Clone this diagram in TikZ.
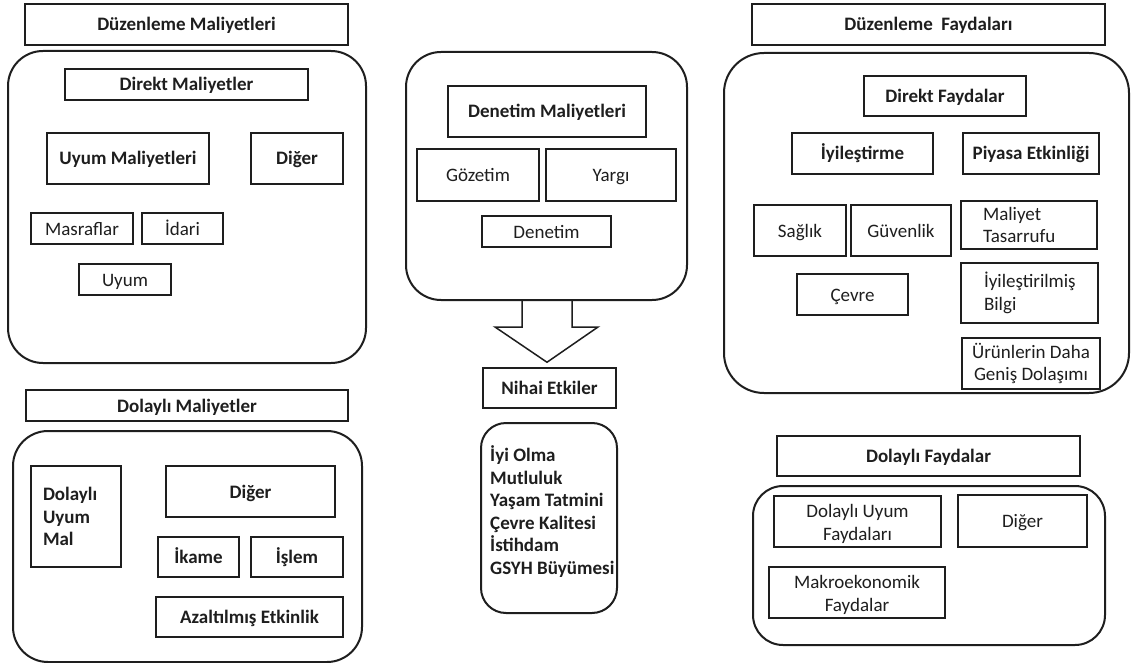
\documentclass[tikz,border=0pt]{standalone}
\usepackage{fontspec}
\setmainfont{Carlito}
\usetikzlibrary{calc}
\definecolor{ink}{HTML}{1E1E1E}
% two centred lines set a little lower than the box middle
\newcommand{\lowpair}[2]{\raisebox{-3pt}[\height][\depth]{\renewcommand{\arraystretch}{1}\begin{tabular}{@{}c@{}}#1\\#2\end{tabular}}}
\begin{document}
\begin{tikzpicture}[x=1pt,y=-1pt,
  txt/.style={font=\fontsize{19}{22.6}\selectfont, text=ink},
  btxt/.style={font=\fontsize{19}{22.6}\selectfont\bfseries, text=ink},
  mbox/.style={draw=ink, line width=1.5pt, inner sep=0pt, align=center, txt},
  box/.style={mbox, text height=14pt, text depth=1pt},
  bbox/.style={box, btxt},
  sz/.style 2 args={minimum width=#1pt, minimum height=#2pt},
  frame/.style={draw=ink, line width=2pt, rounded corners=#1, inner sep=0pt},
]
\useasboundingbox[fill=white] (0,0) rectangle (1132,663);

% --- regulatory costs: direct ---
\node[bbox, sz={323}{41}] (dmtitle) at (186.5,24.5) {Düzenleme Maliyetleri};
\node[frame=35pt, sz={358}{312}] (dmframe) at (187,207) {};
\node[bbox, sz={243}{31}] (direktm) at (186.5,84.5) {Direkt Maliyetler};
\node[bbox, sz={162}{51}] (uyumm) at (128,158.5) {Uyum Maliyetleri};
\node[bbox, sz={92}{51}] (digera) at (297,158.5) {Diğer};
\node[box, sz={102}{31}] (masraf) at (82,228.5) {Masraflar};
\node[box, sz={81}{31}] (idari) at (182.5,228.5) {İdari};
\node[box, sz={92}{31}, line width=2pt] (uyum) at (125,279.5) {Uyum};

% --- enforcement costs ---
\node[frame=35pt, sz={281}{248}] (denframe) at (546.5,176) {};
\node[bbox, sz={198}{51}] (denm) at (547,111.5) {Denetim Maliyetleri};
\node[box, sz={122}{52}, line width=2.5pt] (gozetim) at (478,175) {Gözetim};
\node[box, sz={130}{52}] (yargi) at (611,175) {Yargı};
\node[box, sz={129}{31}] (denetim) at (546.5,231.5) {Denetim};

% --- final effects ---
\node[bbox, sz={133}{40}] (nihai) at (549.5,388) {Nihai Etkiler};
\node[frame=25pt, sz={136}{190}] (etkiframe) at (549,518) {};
\node[btxt, anchor=west, align=left, inner sep=0pt] (etki) at (490,511.5)
  {İyi Olma\\Mutluluk\\Yaşam Tatmini\\Çevre Kalitesi\\İstihdam\\GSYH Büyümesi};
\draw[draw=ink, line width=1.5pt, line join=miter]
  ($(denframe.south)+(-24.5,0)$) -- ++(0,26) -- ++(-27,0)
  -- ($(nihai.north)+(-2.5,-5)$)
  -- ($(denframe.south)+(51.5,26)$) -- ++(-26,0) -- ($(denframe.south)+(25.5,0)$);

% --- regulatory benefits: direct ---
\node[bbox, sz={353}{41}] (dftitle) at (928.5,24.5) {Düzenleme\ \ Faydaları};
\node[frame=40pt, sz={405}{340}] (dfframe) at (926.5,223) {};
\node[bbox, sz={162}{40}] (direktf) at (945,96) {Direkt Faydalar};
\node[bbox, sz={141}{41}] (iyilestirme) at (862.5,153.5) {İyileştirme};
\node[bbox, sz={136}{41}] (piyasa) at (1031,153.5) {Piyasa Etkinliği};
\node[box, sz={92}{51}] (saglik) at (800,230.5) {Sağlık};
\node[box, sz={100}{51}] (guvenlik) at (901,230.5) {Güvenlik};
\node[mbox, minimum height=48pt, text width=92pt, inner xsep=22pt, align=left] (maliyet) at (1029,225) {Maliyet\\Tasarrufu};
\node[box, sz={111}{41}] (cevre) at (852.5,294.5) {Çevre};
\node[mbox, minimum height=60pt, text width=91pt, inner xsep=23pt, align=left] (bilgi) at (1029.5,293) {İyileştirilmiş\\Bilgi};
\node[mbox, sz={138}{51}] (urun) at (1031,363.5) {Ürünlerin Daha\\Geniş Dolaşımı};

% --- indirect costs ---
\node[bbox, sz={322}{31}] (dolmtitle) at (187,405.5) {Dolaylı Maliyetler};
\node[frame=35pt, sz={349}{231}] (dolmframe) at (187.5,546.5) {};
\node[mbox, btxt, minimum height=101pt, text width=66pt, inner xsep=12pt, align=left] (doluyum) at (76,516.5) {Dolaylı\\Uyum\\Mal};
\node[bbox, sz={169}{51}] (digerb) at (250.5,491.5) {Diğer};
\node[bbox, sz={81}{40}] (ikame) at (198.5,557) {İkame};
\node[bbox, sz={92}{40}] (islem) at (297,557) {İşlem};
\node[bbox, sz={187}{40}] (azalt) at (249.5,617) {Azaltılmış Etkinlik};

% --- indirect benefits ---
\node[bbox, sz={303}{40}] (dolftitle) at (928.5,456) {Dolaylı Faydalar};
\node[frame=30pt, sz={352}{159}] (dolfframe) at (929,565.5) {};
\node[mbox, sz={167}{51}] (doluyumf) at (857.5,521.5) {\lowpair{Dolaylı Uyum}{Faydaları}};
\node[box, sz={129}{52}] (digerc) at (1022.5,521) {Diğer};
\node[mbox, sz={176}{51}] (makro) at (857,592.5) {\lowpair{Makroekonomik}{Faydalar}};
\end{tikzpicture}
\end{document}
